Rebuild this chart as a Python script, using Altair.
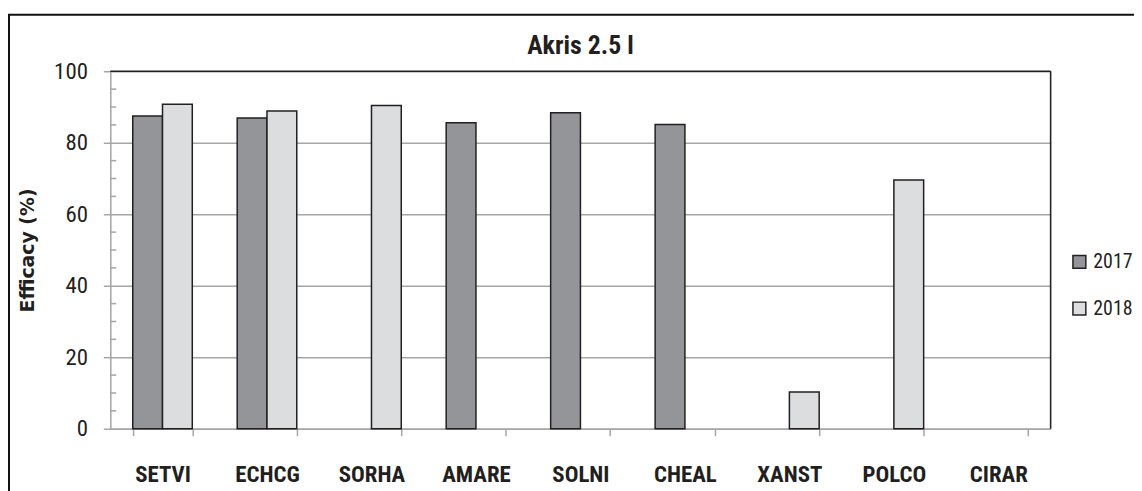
import altair as alt
import pandas as pd

# ---- data ----
categories = ["SETVI", "ECHCG", "SORHA", "AMARE", "SOLNI", "CHEAL", "XANST", "POLCO", "CIRAR"]
years = ["2017", "2018"]
eff_2017 = [87.5, 86.9, None, 85.6, 88.4, 85.1, None, None, None]
eff_2018 = [90.8, 88.9, 90.4, None, None, None, 10.3, 69.6, None]
y_ticks = [0, 20, 40, 60, 80, 100]
y_minor = [5, 10, 15, 25, 30, 35, 45, 50, 55, 65, 70, 75, 85, 90, 95]

rows = []
for yr, vals in zip(years, [eff_2017, eff_2018]):
    for c, v in zip(categories, vals):
        if v is not None:
            rows.append({"weed": c, "year": yr, "eff": v})
df = pd.DataFrame(rows)

# ---- layout / style ----
PLOT_W, PLOT_H = 947, 360
NARROW = "Liberation Sans Narrow, Arial Narrow, Roboto Condensed, sans-serif"
DARK = "#231f20"
GRID = "#a6a6a6"

yscale = alt.Scale(domain=[0, 100])

bars = alt.Chart(df).mark_bar(stroke=DARK, strokeWidth=1.5).encode(
    x=alt.X("weed:N", sort=categories,
            scale=alt.Scale(domain=categories, paddingInner=0.43, paddingOuter=0.215),
            axis=alt.Axis(title=None, labelAngle=0, tickBand="extent", tickSize=7,
                          tickColor=GRID, tickWidth=1.5, domainColor=GRID, domainWidth=1.5,
                          labelFont=NARROW, labelFontWeight="bold", labelFontSize=23,
                          labelColor=DARK, labelPadding=28, grid=False)),
    xOffset=alt.XOffset("year:N", sort=years),
    y=alt.Y("eff:Q", scale=yscale,
            axis=alt.Axis(values=y_ticks, grid=True, gridColor=GRID, gridWidth=1.5,
                          domainColor=GRID, domainWidth=1.5, tickColor=GRID, tickSize=7,
                          tickWidth=1.5, labelFont=NARROW, labelFontSize=23, labelColor=DARK,
                          labelPadding=16, title="Efficacy (%)", titleFont="DejaVu Sans",
                          titleFontSize=19, titleFontWeight="bold", titleColor=DARK,
                          titleX=-83, titleY=PLOT_H / 2, titleAngle=270, titleAlign="center",
                          titleBaseline="middle")),
    color=alt.Color("year:N", scale=alt.Scale(domain=years, range=["#939598", "#dcdddf"]),
                    legend=alt.Legend(title=None, orient="none", legendX=966, legendY=182,
                                      symbolType="square", symbolSize=169,
                                      symbolStrokeColor=DARK, symbolStrokeWidth=1.5,
                                      labelFont=NARROW, labelFontSize=20, labelColor=DARK,
                                      rowPadding=27, labelOffset=4)),
)

minor = alt.Chart(pd.DataFrame({"v": y_minor})).mark_rule(color=GRID, strokeWidth=1.5).encode(
    y=alt.Y("v:Q", scale=yscale), x=alt.value(0), x2=alt.value(6)
)

one = pd.DataFrame({"a": [0]})
top_border = alt.Chart(one).mark_rule(color=DARK, strokeWidth=1.5).encode(
    y=alt.datum(100, scale=yscale), x=alt.value(0), x2=alt.value(PLOT_W)
)
right_border = alt.Chart(one).mark_rule(color=DARK, strokeWidth=1.5).encode(
    x=alt.value(PLOT_W), y=alt.value(0), y2=alt.value(PLOT_H)
)
frame = alt.Chart(one).mark_rect(fillOpacity=0, stroke="#111111", strokeWidth=2).encode(
    x=alt.value(-102), y=alt.value(-57), x2=alt.value(PLOT_W + 300), y2=alt.value(PLOT_H + 300)
)

chart = alt.layer(minor, bars, top_border, right_border, frame).properties(
    width=PLOT_W, height=PLOT_H,
    title=alt.TitleParams("Akris 2.5 l", fontSize=26, font=NARROW, fontWeight="bold",
                          color=DARK, offset=-46, anchor="middle", frame="group"),
    autosize=alt.AutoSizeParams(type="none"),
    padding={"left": 103, "top": 62, "right": 84, "bottom": 61},
).configure_view(stroke=None).configure(background="white")

chart.save("out.html", embed_options={"renderer": "svg", "actions": False})
